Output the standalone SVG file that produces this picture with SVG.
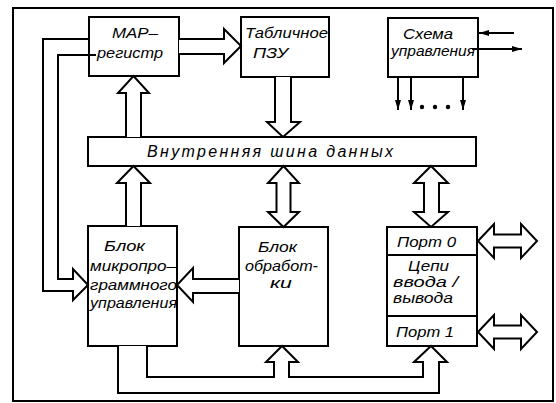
<svg xmlns="http://www.w3.org/2000/svg" width="556" height="403" viewBox="0 0 556 403">
<defs>
<style>
.box{fill:#fff;stroke:#000;stroke-width:2}
.ln{fill:none;stroke:#000;stroke-width:2;stroke-linejoin:miter}
.ba{fill:#fff;stroke:#000;stroke-width:2;stroke-linejoin:miter}
.t{font-family:"Liberation Sans","DejaVu Sans",sans-serif;font-style:italic;font-size:15px;fill:#000}
.tb{font-family:"Liberation Sans","DejaVu Sans",sans-serif;font-style:italic;font-size:16px;fill:#000}
</style>
<marker id="ah" viewBox="0 0 10 6" refX="10" refY="3" markerWidth="10" markerHeight="6" markerUnits="userSpaceOnUse" orient="auto">
<path d="M0,0 L10,3 L0,6 Z" fill="#000"/>
</marker>
</defs>
<rect x="13" y="8" width="540" height="393" fill="#fff" stroke="#000" stroke-width="2"/>

<g id="map">
<rect class="box" x="89" y="17" width="90" height="59"/>
<text class="t" x="112" y="38" textLength="46" lengthAdjust="spacingAndGlyphs">МАР–</text>
<text class="t" x="97" y="58" textLength="66" lengthAdjust="spacingAndGlyphs">регистр</text>
</g>

<g id="pzu">
<rect class="box" x="241" y="17" width="88" height="60"/>
<text class="t" x="245" y="38" textLength="83" lengthAdjust="spacingAndGlyphs">Табличное</text>
<text class="t" x="253" y="58" textLength="35" lengthAdjust="spacingAndGlyphs">ПЗУ</text>
</g>

<g id="control">
<rect class="box" x="388" y="18" width="90" height="59"/>
<text class="t" x="403" y="39" textLength="50" lengthAdjust="spacingAndGlyphs">Схема</text>
<text class="t" x="391" y="56" textLength="84" lengthAdjust="spacingAndGlyphs">управления</text>
</g>

<g id="bus">
<rect class="box" x="88" y="137" width="388" height="29"/>
<text class="tb" x="147" y="157" textLength="246" lengthAdjust="spacing">Внутренняя шина данных</text>
</g>

<g id="mpu">
<rect class="box" x="88" y="226" width="89" height="120"/>
<text class="t" x="104" y="251" textLength="41" lengthAdjust="spacingAndGlyphs">Блок</text>
<text class="t" x="90" y="271" textLength="86" lengthAdjust="spacingAndGlyphs">микропро–</text>
<text class="t" x="90" y="290" textLength="87" lengthAdjust="spacingAndGlyphs">граммного</text>
<text class="t" x="90" y="308" textLength="87" lengthAdjust="spacingAndGlyphs">управления</text>
</g>

<g id="alu">
<rect class="box" x="239" y="227" width="89" height="119"/>
<text class="t" x="258" y="252" textLength="39" lengthAdjust="spacingAndGlyphs">Блок</text>
<text class="t" x="245" y="271" textLength="73" lengthAdjust="spacingAndGlyphs">обработ-</text>
<text class="t" x="270" y="288" textLength="22" lengthAdjust="spacingAndGlyphs">ки</text>
</g>

<g id="io">
<rect class="box" x="387" y="227" width="90" height="119"/>
<line class="ln" x1="387" y1="255" x2="477" y2="255"/>
<line class="ln" x1="387" y1="316" x2="477" y2="316"/>
<text class="t" x="397" y="247" textLength="59" lengthAdjust="spacingAndGlyphs">Порт 0</text>
<text class="t" x="408" y="271" textLength="41" lengthAdjust="spacingAndGlyphs">Цепи</text>
<text class="t" x="393" y="287" textLength="65" lengthAdjust="spacingAndGlyphs">ввода /</text>
<text class="t" x="393" y="303" textLength="60" lengthAdjust="spacingAndGlyphs">вывода</text>
<text class="t" x="396" y="337" textLength="58" lengthAdjust="spacingAndGlyphs">Порт 1</text>
</g>

<g id="connectors">
<path class="ln" d="M89,39 H43 V291 H73 V300 L88,285 L73,269 V279 H58 V55 H96"/>
<path class="ba" d="M179,39 H224 V29 L241,46 L224,63 V54 H179"/>
<path class="ba" d="M126,137 V93 H118 L133.5,76 L149,93 H141 V137"/>
<path class="ba" d="M275,77 V122 H267 L283,137 L300,122 H291 V77"/>
<path class="ba" d="M126,226 V183 H117 L133.5,166 L150,183 H141 V226"/>
<path class="ba" d="M276.5,183 H268 L283.5,166 L299,183 H290.5 V212 H299 L283.5,227 L268,212 H276.5 Z"/>
<path class="ba" d="M424,183 H414 L431,166 L448,183 H439 V212 H448 L431,227 L414,212 H424 Z"/>
<path class="ba" d="M239,279 H193 V268 L177,285 L193,302 V293 H239"/>
<path class="ba" d="M118,346 V393 H439 V362 H447 L431,346 L414,362 H423 V377 H289 V362 H298 L282,346 L266,362 H274 V377 H147 V346"/>
<path class="ba" d="M478,241 L494,224 V234.5 H521 V224 L537,241 L521,258 V247.5 H494 V258 Z"/>
<path class="ba" d="M478,332 L494,315 V325.5 H521 V315 L537,332 L521,349 V338.5 H494 V349 Z"/>
<line class="ln" x1="514" y1="33" x2="479" y2="33" marker-end="url(#ah)"/>
<line class="ln" x1="472" y1="49" x2="522" y2="49" marker-end="url(#ah)"/>
<line class="ln" x1="398" y1="77" x2="398" y2="110" marker-end="url(#ah)"/>
<line class="ln" x1="411" y1="77" x2="411" y2="110" marker-end="url(#ah)"/>
<line class="ln" x1="463" y1="77" x2="463" y2="110" marker-end="url(#ah)"/>
<circle cx="422" cy="107" r="2.2" fill="#000"/>
<circle cx="435" cy="107" r="2.2" fill="#000"/>
<circle cx="448" cy="107" r="2.2" fill="#000"/>
</g>
</svg>
